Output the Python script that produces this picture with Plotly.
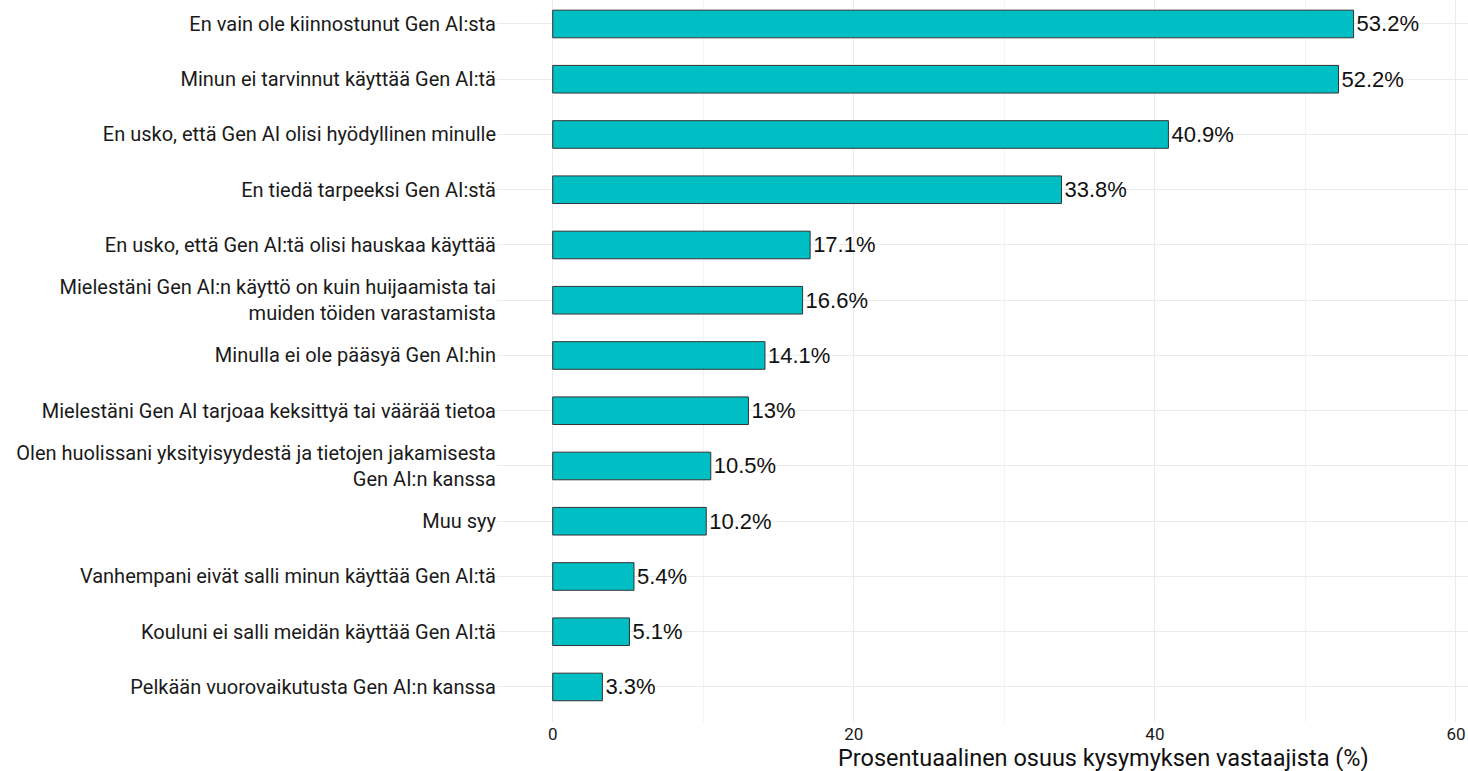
import plotly.graph_objects as go

# reasons for not using Gen AI, top to bottom as in the chart
reasons = [
    'En vain ole kiinnostunut Gen AI:sta',
    'Minun ei tarvinnut käyttää Gen AI:tä',
    'En usko, että Gen AI olisi hyödyllinen minulle',
    'En tiedä tarpeeksi Gen AI:stä',
    'En usko, että Gen AI:tä olisi hauskaa käyttää',
    'Mielestäni Gen AI:n käyttö on kuin huijaamista tai<br>muiden töiden varastamista',
    'Minulla ei ole pääsyä Gen AI:hin',
    'Mielestäni Gen AI tarjoaa keksittyä tai väärää tietoa',
    'Olen huolissani yksityisyydestä ja tietojen jakamisesta<br>Gen AI:n kanssa',
    'Muu syy',
    'Vanhempani eivät salli minun käyttää Gen AI:tä',
    'Kouluni ei salli meidän käyttää Gen AI:tä',
    'Pelkään vuorovaikutusta Gen AI:n kanssa',
]
shares = [53.2, 52.2, 40.9, 33.8, 17.1, 16.6, 14.1, 13, 10.5, 10.2, 5.4, 5.1, 3.3]
x_ticks = [0, 20, 40, 60]

labels = [f'{v:g}%' for v in shares]

fig = go.Figure(go.Bar(
    x=shares, y=reasons, orientation='h',
    marker=dict(color='#00BFC4', line=dict(color='#333333', width=1)),
    width=0.5,
    text=labels, textposition='outside', cliponaxis=False,
    textfont=dict(family='Liberation Sans', size=22, color='#111111'),
))

fig.update_layout(
    width=1468, height=771,
    paper_bgcolor='white', plot_bgcolor='white',
    margin=dict(l=497, r=0, t=0, b=49),
    showlegend=False,
    xaxis=dict(
        range=[-3.7, 60.8], tickvals=x_ticks, showgrid=True,
        gridcolor='#ebebeb', gridwidth=1, zeroline=False, showline=False,
        ticks='', ticklabeloverflow='allow',
        tickfont=dict(family='Roboto', size=17, color='#1a1a1a'),
        minor=dict(tickvals=[10, 30, 50], showgrid=True, gridcolor='#f3f3f3', gridwidth=1),
    ),
    yaxis=dict(
        range=[12.634, -0.434], showgrid=True, gridcolor='#ebebeb', gridwidth=1,
        zeroline=False, ticks='', ticklen=6, tickcolor='white',
        tickfont=dict(family='Roboto', size=20, color='#1a1a1a'),
    ),
    annotations=[dict(
        text='Prosentuaalinen osuus kysymyksen vastaajista (%)',
        xref='paper', yref='paper', x=0.625, y=0, yshift=-36,
        xanchor='center', yanchor='middle', showarrow=False,
        font=dict(family='Roboto', size=23.5, color='#111111'),
    )],
)

fig.write_html('out.html', config={'displayModeBar': False},
               post_script="document.body.style.margin='0';")
